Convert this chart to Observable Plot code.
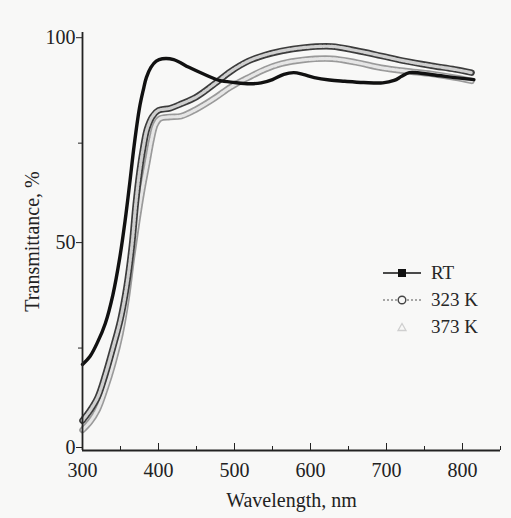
<!DOCTYPE html>
<html>
<head>
<meta charset="utf-8">
<script src="https://cdn.jsdelivr.net/npm/d3@7"></script>
<script src="https://cdn.jsdelivr.net/npm/@observablehq/plot@0.6"></script>
<style>
  html, body { margin: 0; padding: 0; background: #f8f8f7; }
  #wrap { position: relative; width: 511px; height: 518px; overflow: hidden;
          font-family: "Liberation Serif", "DejaVu Serif", serif; color: #262626; }
  #chart { position: absolute; left: 0; top: 0; }
  #chart svg, #chart svg text { font-family: "Liberation Serif", "DejaVu Serif", serif !important; }
  .lg { position: absolute; display: flex; align-items: center; height: 24px; }
  .lg span { font-size: 19px; margin-left: 8px; }
</style>
</head>
<body>
<div id="wrap">
  <div id="chart"></div>
  <div id="legend"></div>
</div>
<script>
// Transmission spectra of the film: room temperature and after annealing
const wlRT = [300, 310, 320, 330, 340, 349, 356, 362, 368, 375, 380, 384, 390, 397, 405, 420, 440, 460, 480, 500, 520, 535, 550, 565, 578, 590, 605, 625, 645, 670, 695, 710, 720, 730, 760, 790, 815];
const tRT  = [21, 23, 26.5, 31, 38, 47, 56, 65, 74.5, 83.6, 88, 91, 93.5, 95, 95.6, 95.4, 93.5, 91.8, 90.3, 89.8, 89.5, 89.7, 90.5, 91.8, 92.2, 91.8, 91, 90.4, 90.1, 89.8, 89.7, 90.3, 91.3, 92.2, 91.7, 91, 90.5];

const wl323 = [300, 310, 320, 330, 340, 350, 358, 365, 370, 375, 380, 385, 392, 400, 415, 430, 450, 474, 495, 518, 540, 562, 590, 628, 660, 693, 725, 759, 790, 812];
const t323  = [7.3, 9.8, 13, 18.5, 25, 32, 40, 50, 60, 68, 74, 78.5, 81.5, 83, 83.5, 84.6, 86.3, 89.5, 92.5, 95, 96.5, 97.5, 98.3, 98.6, 97.6, 96.3, 95, 93.9, 93, 92.2];

const wl373 = [300, 310, 320, 330, 340, 350, 358, 365, 372, 378, 385, 391, 396, 402, 415, 430, 450, 474, 495, 518, 540, 562, 590, 628, 660, 693, 725, 759, 790, 812];
const t373  = [5, 7, 10, 15, 21, 28.5, 37, 47, 56, 63, 70, 76, 79.5, 81, 81.4, 81.6, 83.3, 86, 88.7, 91, 93, 94.4, 95.3, 95.6, 94.7, 93.4, 92.6, 91.9, 91, 90.2];

// Axis ticks
const xLabelTicks = [300, 400, 500, 600, 700, 800];
const xMinorTicks = [350, 450, 550, 650, 750, 850];
const yLabelTicks = [0, 50, 100];
const yMinorTicks = [25, 75];

// Legend entries
const legendNames = ["RT", "323 K", "373 K"];

const rows = (wl, t) => wl.map((w, i) => ({wl: w, t: t[i]}));
const dRT = rows(wlRT, tRT);
const d323 = rows(wl323, t323);
const d373 = rows(wl373, t373);

const curve = "catmull-rom";
const serif = "Liberation Serif";

const chart = Plot.plot({
  width: 511,
  height: 518,
  marginLeft: 82,
  marginRight: 11,
  marginTop: 32,
  marginBottom: 68,
  style: {fontFamily: serif, fontSize: "20px", background: "transparent", color: "#222"},
  x: {domain: [300, 850]},
  y: {domain: [0, 102]},
  marks: [
    // 373 K: pale chain of open markers
    Plot.line(d373, {x: "wl", y: "t", curve, stroke: "#9a9a9a", strokeWidth: 6.5}),
    Plot.line(d373, {x: "wl", y: "t", curve, stroke: "#e6e6e6", strokeWidth: 3.2, strokeDasharray: "2.6,1.4"}),
    // 323 K: darker chain of open circles
    Plot.line(d323, {x: "wl", y: "t", curve, stroke: "#3c3c3c", strokeWidth: 6.5}),
    Plot.line(d323, {x: "wl", y: "t", curve, stroke: "#cfcfcf", strokeWidth: 3.2, strokeDasharray: "2.6,1.4"}),
    // RT: solid black
    Plot.line(dRT, {x: "wl", y: "t", curve, stroke: "#111", strokeWidth: 3.4}),
    // axis lines
    Plot.ruleY([0], {stroke: "#222", strokeWidth: 1.8}),
    Plot.ruleX([300], {stroke: "#222", strokeWidth: 1.8}),
    // x axis
    Plot.axisX(xLabelTicks, {tickSize: 0, tickPadding: 12, fontFamily: serif, fontSize: 20, label: "Wavelength, nm", labelAnchor: "center", labelOffset: 56, labelArrow: "none"}),
    Plot.axisX(xLabelTicks, {tickSize: -7, text: null, label: null, stroke: "#222"}),
    Plot.axisX(xMinorTicks, {tickSize: -4, text: null, label: null, stroke: "#222"}),
    // y axis
    Plot.axisY(yLabelTicks, {tickSize: 6, tickPadding: 1, dy: -3, fontFamily: serif, fontSize: 20, label: "Transmittance, %", labelAnchor: "center", labelOffset: 58, labelArrow: "none"}),
    Plot.axisY(yMinorTicks, {tickSize: 4, text: null, label: null, stroke: "#222"})
  ]
});
document.getElementById("chart").appendChild(chart);

// Legend drawn beside the curves
const symbols = [
  `<line x1="0" y1="6" x2="38" y2="6" stroke="#111" stroke-width="1.6"/><rect x="15" y="2" width="8" height="8" fill="#111"/>`,
  `<line x1="0" y1="6" x2="38" y2="6" stroke="#555" stroke-width="1.2" stroke-dasharray="2,2"/><circle cx="19" cy="6" r="3.8" fill="#f8f8f7" stroke="#444" stroke-width="1.4"/>`,
  `<path d="M19,2.5 L23,9.5 L15,9.5 Z" fill="none" stroke="#cfcfcf" stroke-width="1.3"/>`
];
const legend = document.getElementById("legend");
legendNames.forEach((name, i) => {
  const row = document.createElement("div");
  row.className = "lg";
  row.style.left = "383px";
  row.style.top = (261 + i * 27) + "px";
  row.innerHTML = `<svg width="40" height="12">${symbols[i]}</svg><span>${name}</span>`;
  legend.appendChild(row);
});
</script>
</body>
</html>
